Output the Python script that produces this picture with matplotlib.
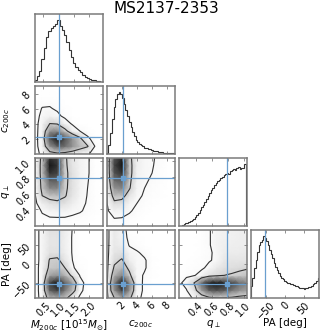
import numpy as np
import matplotlib
matplotlib.use('Agg')
import matplotlib.pyplot as plt

title = "MS2137-2353"
labels = [r'$M_{200c}$ [$10^{15}M_{\odot}$]', r'$c_{200c}$', r'$q_{\perp}$', 'PA [deg]']
ranges = [(0.21, 2.46), (0.0, 9.1), (0.19, 1.04), (-90.0, 90.0)]
truths = [1.0, 2.2, 0.79, -53.0]
ticks = [[0.5, 1.0, 1.5, 2.0], [2, 4, 6, 8], [0.4, 0.6, 0.8, 1.0], [-50, 0, 50]]

# 1D marginal histograms (relative heights)
hist_M_range = (0.21, 2.46)
hist_M = [0.03, 0.09, 0.18, 0.36, 0.55, 0.72, 0.82, 0.86, 0.90, 0.93, 1.00, 0.90,
          0.84, 0.76, 0.64, 0.52, 0.40, 0.31, 0.24, 0.19, 0.15, 0.11, 0.08, 0.06,
          0.04, 0.03, 0.02, 0.01, 0.005, 0.003]
hist_c_range = (0.0, 9.1)
hist_c = [0.02, 0.14, 0.34, 0.56, 0.75, 0.88, 0.96, 1.00, 0.96, 0.90, 0.81, 0.71,
          0.61, 0.51, 0.43, 0.35, 0.28, 0.23, 0.19, 0.16, 0.14, 0.12, 0.10, 0.09,
          0.08, 0.07, 0.06, 0.05, 0.045, 0.038, 0.032, 0.027, 0.022, 0.018, 0.015,
          0.012, 0.010, 0.008, 0.006, 0.005]
hist_q_range = (0.19, 1.03)
hist_q = [0.0, 0.005, 0.015, 0.025, 0.04, 0.055, 0.065, 0.08, 0.095, 0.11, 0.14,
          0.17, 0.21, 0.26, 0.30, 0.34, 0.39, 0.44, 0.49, 0.53, 0.58, 0.62, 0.66,
          0.69, 0.72, 0.75, 0.77, 0.79, 0.82, 0.84, 0.85, 0.84, 0.88, 0.90, 0.92,
          0.91, 0.93, 0.95, 0.92, 0.94, 0.93, 1.00]
hist_PA_range = (-90.0, 90.0)
hist_PA = [0.20, 0.33, 0.48, 0.62, 0.75, 0.85, 0.91, 0.94, 1.00, 0.97, 0.92, 0.85,
           0.78, 0.71, 0.64, 0.57, 0.50, 0.45, 0.40, 0.36, 0.33, 0.30, 0.28, 0.26,
           0.25, 0.24, 0.23, 0.22, 0.21, 0.20, 0.19, 0.18, 0.17, 0.155, 0.16, 0.15,
           0.16, 0.17, 0.18, 0.18, 0.20, 0.22, 0.24, 0.27, 0.33]

# 2D densities on 10x10 node grids spanning the axis ranges (rows: bottom -> top)
dens_M_c = [
    [0.0, 0.08, 0.20, 0.25, 0.22, 0.17, 0.10, 0.06, 0.02, 0.0],
    [0.0, 0.12, 0.55, 0.75, 0.70, 0.55, 0.42, 0.32, 0.04, 0.0],
    [0.0, 0.13, 0.80, 1.00, 0.80, 0.55, 0.35, 0.07, 0.01, 0.0],
    [0.0, 0.12, 0.55, 0.60, 0.38, 0.15, 0.05, 0.01, 0.0, 0.0],
    [0.0, 0.11, 0.30, 0.28, 0.12, 0.03, 0.0, 0.0, 0.0, 0.0],
    [0.0, 0.08, 0.13, 0.08, 0.02, 0.0, 0.0, 0.0, 0.0, 0.0],
    [0.0, 0.055, 0.06, 0.03, 0.01, 0.0, 0.0, 0.0, 0.0, 0.0],
    [0.0, 0.02, 0.02, 0.01, 0.0, 0.0, 0.0, 0.0, 0.0, 0.0],
    [0.0, 0.01, 0.01, 0.0, 0.0, 0.0, 0.0, 0.0, 0.0, 0.0],
    [0.0, 0.0, 0.0, 0.0, 0.0, 0.0, 0.0, 0.0, 0.0, 0.0],
]
dens_M_q = [
    [0.0, 0.01, 0.02, 0.02, 0.02, 0.01, 0.01, 0.0, 0.0, 0.0],
    [0.0, 0.03, 0.04, 0.04, 0.04, 0.03, 0.02, 0.01, 0.0, 0.0],
    [0.0, 0.06, 0.10, 0.12, 0.11, 0.08, 0.06, 0.03, 0.01, 0.0],
    [0.01, 0.15, 0.22, 0.25, 0.22, 0.15, 0.08, 0.04, 0.01, 0.0],
    [0.02, 0.30, 0.38, 0.40, 0.32, 0.20, 0.10, 0.045, 0.01, 0.0],
    [0.02, 0.36, 0.60, 0.60, 0.34, 0.22, 0.12, 0.05, 0.01, 0.0],
    [0.02, 0.38, 0.75, 0.75, 0.35, 0.22, 0.12, 0.055, 0.01, 0.0],
    [0.02, 0.40, 0.90, 0.85, 0.35, 0.22, 0.12, 0.06, 0.01, 0.0],
    [0.02, 0.40, 1.00, 0.90, 0.34, 0.20, 0.12, 0.06, 0.01, 0.0],
    [0.02, 0.38, 0.90, 0.85, 0.33, 0.20, 0.12, 0.06, 0.01, 0.0],
]
dens_c_q = [
    [0.0, 0.02, 0.02, 0.01, 0.0, 0.0, 0.0, 0.0, 0.0, 0.0],
    [0.0, 0.05, 0.045, 0.03, 0.01, 0.0, 0.0, 0.0, 0.0, 0.0],
    [0.03, 0.12, 0.10, 0.06, 0.03, 0.01, 0.0, 0.0, 0.0, 0.0],
    [0.04, 0.25, 0.22, 0.10, 0.05, 0.02, 0.01, 0.0, 0.0, 0.0],
    [0.04, 0.40, 0.38, 0.20, 0.07, 0.04, 0.02, 0.01, 0.0, 0.0],
    [0.04, 0.55, 0.60, 0.32, 0.10, 0.05, 0.03, 0.01, 0.0, 0.0],
    [0.04, 0.70, 0.75, 0.35, 0.12, 0.06, 0.04, 0.02, 0.0, 0.0],
    [0.04, 0.80, 0.90, 0.38, 0.13, 0.07, 0.05, 0.02, 0.0, 0.0],
    [0.04, 0.85, 1.00, 0.38, 0.14, 0.08, 0.055, 0.03, 0.0, 0.0],
    [0.04, 0.80, 0.95, 0.36, 0.14, 0.08, 0.06, 0.03, 0.0, 0.0],
]
dens_M_PA = [
    [0.0, 0.09, 0.42, 0.45, 0.38, 0.12, 0.03, 0.0, 0.0, 0.0],
    [0.0, 0.10, 0.75, 0.85, 0.65, 0.42, 0.08, 0.0, 0.0, 0.0],
    [0.0, 0.10, 0.85, 1.00, 0.75, 0.50, 0.10, 0.0, 0.0, 0.0],
    [0.0, 0.10, 0.50, 0.55, 0.45, 0.25, 0.04, 0.0, 0.0, 0.0],
    [0.0, 0.10, 0.35, 0.38, 0.30, 0.06, 0.02, 0.0, 0.0, 0.0],
    [0.0, 0.09, 0.32, 0.34, 0.20, 0.05, 0.01, 0.0, 0.0, 0.0],
    [0.0, 0.09, 0.22, 0.22, 0.15, 0.04, 0.0, 0.0, 0.0, 0.0],
    [0.0, 0.09, 0.20, 0.20, 0.14, 0.04, 0.0, 0.0, 0.0, 0.0],
    [0.0, 0.09, 0.20, 0.20, 0.14, 0.04, 0.0, 0.0, 0.0, 0.0],
    [0.0, 0.09, 0.22, 0.22, 0.15, 0.045, 0.0, 0.0, 0.0, 0.0],
]
dens_c_PA = [
    [0.0, 0.30, 0.45, 0.35, 0.08, 0.02, 0.0, 0.0, 0.0, 0.0],
    [0.0, 0.55, 0.85, 0.55, 0.10, 0.03, 0.0, 0.0, 0.0, 0.0],
    [0.0, 0.60, 1.00, 0.60, 0.10, 0.03, 0.0, 0.0, 0.0, 0.0],
    [0.0, 0.45, 0.60, 0.35, 0.08, 0.04, 0.01, 0.0, 0.0, 0.0],
    [0.0, 0.33, 0.42, 0.25, 0.07, 0.06, 0.01, 0.0, 0.0, 0.0],
    [0.0, 0.25, 0.32, 0.15, 0.06, 0.06, 0.01, 0.0, 0.0, 0.0],
    [0.0, 0.20, 0.22, 0.10, 0.06, 0.03, 0.0, 0.0, 0.0, 0.0],
    [0.0, 0.18, 0.15, 0.04, 0.02, 0.0, 0.0, 0.0, 0.0, 0.0],
    [0.0, 0.17, 0.11, 0.02, 0.01, 0.0, 0.0, 0.0, 0.0, 0.0],
    [0.0, 0.17, 0.10, 0.01, 0.01, 0.0, 0.0, 0.0, 0.0, 0.0],
]
dens_q_PA = [
    [0.0, 0.02, 0.06, 0.15, 0.25, 0.28, 0.28, 0.26, 0.22, 0.20],
    [0.0, 0.04, 0.20, 0.50, 0.75, 0.80, 0.75, 0.65, 0.55, 0.50],
    [0.02, 0.10, 0.30, 0.70, 0.95, 1.00, 0.95, 0.85, 0.70, 0.60],
    [0.0, 0.03, 0.04, 0.10, 0.22, 0.26, 0.30, 0.32, 0.35, 0.38],
    [0.0, 0.01, 0.02, 0.03, 0.08, 0.18, 0.22, 0.24, 0.26, 0.28],
    [0.0, 0.0, 0.01, 0.02, 0.04, 0.07, 0.18, 0.20, 0.20, 0.20],
    [0.0, 0.0, 0.0, 0.01, 0.03, 0.08, 0.15, 0.16, 0.16, 0.17],
    [0.0, 0.0, 0.0, 0.01, 0.04, 0.10, 0.14, 0.14, 0.15, 0.15],
    [0.0, 0.0, 0.0, 0.01, 0.04, 0.10, 0.13, 0.13, 0.14, 0.15],
    [0.0, 0.0, 0.0, 0.01, 0.04, 0.10, 0.13, 0.13, 0.14, 0.15],
]
contour_levels = [0.05, 0.30]

hists = [(hist_M, hist_M_range), (hist_c, hist_c_range),
         (hist_q, hist_q_range), (hist_PA, hist_PA_range)]
dens = {(1, 0): dens_M_c, (2, 0): dens_M_q, (2, 1): dens_c_q,
        (3, 0): dens_M_PA, (3, 1): dens_c_PA, (3, 2): dens_q_PA}

truth_color = '#6a9fcf'
line_color = '#333333'
spine_color = '#7a7a7a'

fig, axes = plt.subplots(4, 4, figsize=(3.33, 3.33), dpi=100)
fig.subplots_adjust(left=0.104, right=0.958, bottom=0.105, top=0.959,
                    wspace=0.06, hspace=0.06)

n = 4
for i in range(n):
    for j in range(n):
        ax = axes[i, j]
        if j > i:
            ax.set_axis_off()
            continue
        for s in ax.spines.values():
            s.set_color(spine_color)
            s.set_linewidth(1.1)
        ax.tick_params(direction='in', top=True, right=True, length=2.5,
                       width=0.5, color='#666666', labelsize=7, pad=1.5)
        if i == j:
            vals, (lo, hi) = hists[i]
            vals = np.array(vals)
            edges = np.linspace(lo, hi, len(vals) + 1)
            ax.stairs(vals, edges, baseline=0, color=line_color, lw=0.8)
            ax.axvline(truths[i], color=truth_color, lw=0.9)
            ax.set_xlim(ranges[i])
            ax.set_ylim(0, 1.1 * vals.max())
            ax.set_yticks([])
            ax.set_xticks(ticks[i])
        else:
            Z = np.array(dens[(i, j)])
            X = np.linspace(ranges[j][0], ranges[j][1], Z.shape[1])
            Y = np.linspace(ranges[i][0], ranges[i][1], Z.shape[0])
            ax.pcolormesh(X, Y, Z, shading='gouraud', cmap='Greys',
                          vmin=0, vmax=1.08, rasterized=True)
            ax.contour(X, Y, Z, levels=contour_levels, colors=line_color,
                       linewidths=0.8)
            ax.axvline(truths[j], color=truth_color, lw=0.9)
            ax.axhline(truths[i], color=truth_color, lw=0.9)
            ax.plot(truths[j], truths[i], 's', color=truth_color, ms=2.2)
            ax.set_xlim(ranges[j])
            ax.set_ylim(ranges[i])
            ax.set_xticks(ticks[j])
            ax.set_yticks(ticks[i])
            if j == 0:
                for lab in ax.get_yticklabels():
                    lab.set_rotation(45)
                ax.set_ylabel(labels[i], fontsize=7.5)
                ax.yaxis.set_label_coords(-0.33, 0.5)
            else:
                ax.set_yticklabels([])
        if i == n - 1:
            for lab in ax.get_xticklabels():
                lab.set_rotation(45)
            ax.set_xlabel(labels[j], fontsize=7.5)
            ax.xaxis.set_label_coords(0.5, -0.29)
        else:
            ax.set_xticklabels([])

fig.text(0.5, 1 - 8.5 / 333, title, ha='center', va='center', fontsize=11)
fig.savefig('out.png', dpi=100)
